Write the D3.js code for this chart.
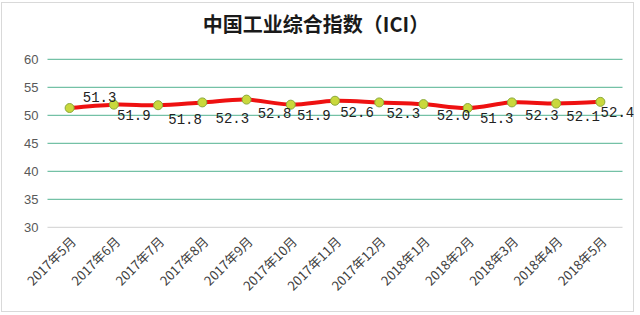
<!DOCTYPE html>
<html>
<head>
<meta charset="utf-8">
<script src="https://cdn.jsdelivr.net/npm/d3@7/dist/d3.min.js"></script>
<style>
  html, body { margin: 0; padding: 0; background: #fff; }
  svg { display: block; }
</style>
</head>
<body>
<svg id="chart" width="640" height="315"></svg>
<script>
// Monthly China Industrial Composite Index
const categories = ["2017年5月", "2017年6月", "2017年7月", "2017年8月", "2017年9月", "2017年10月",
  "2017年11月", "2017年12月", "2018年1月", "2018年2月", "2018年3月", "2018年4月", "2018年5月"];
const iciValues = [51.3, 51.9, 51.8, 52.3, 52.8, 51.9, 52.6, 52.3, 52.0, 51.3, 52.3, 52.1, 52.4];
const yTicks = [30, 35, 40, 45, 50, 55, 60];
const titleText = "中国工业综合指数（ICI）";

// Hand-placed data label offsets (dx, dy) relative to each point
const labelOffsets = [[30, -11], [20, 10], [27, 14], [30, 16], [28, 13], [23, 10], [22, 11],
  [24, 11], [30, 11], [29, 10], [30, 13], [27, 13], [17, 10]];

const svg = d3.select("#chart");
const plot = { left: 47.5, right: 622.5, top: 59.3, bottom: 227.3 };

// Outer frame
svg.append("rect")
  .attr("x", 1.5).attr("y", 2.5).attr("width", 632).attr("height", 309)
  .attr("fill", "#fff").attr("stroke", "#d9d9d9").attr("stroke-width", 1);

// Title
svg.append("text")
  .attr("x", 316).attr("y", 32)
  .attr("text-anchor", "middle")
  .attr("font-family", "'Noto Sans CJK SC', sans-serif")
  .attr("font-weight", 700)
  .attr("font-size", 20)
  .attr("fill", "#1a1a1a")
  .text(titleText);

const x = d3.scaleBand().domain(categories).range([plot.left, plot.right]);
const y = d3.scaleLinear().domain([30, 60]).range([plot.bottom, plot.top]);

// Horizontal gridlines
svg.append("g").selectAll("line")
  .data(yTicks)
  .join("line")
  .attr("x1", plot.left).attr("x2", plot.right)
  .attr("y1", d => y(d)).attr("y2", d => y(d))
  .attr("stroke", d => d === 30 ? "#d9d9d9" : "#74c1a6")
  .attr("stroke-width", 1.3);

// Y axis labels
const yAxis = d3.axisLeft(y).tickValues(yTicks).tickSize(0).tickPadding(9);
const yg = svg.append("g").attr("transform", `translate(${plot.left},0)`).call(yAxis);
yg.select(".domain").remove();
yg.selectAll("text")
  .attr("font-family", "'Liberation Sans', Arial, sans-serif")
  .attr("font-size", 13)
  .attr("fill", "#595959");

// X axis labels, rotated
const xAxis = d3.axisBottom(x).tickSize(0).tickPadding(0);
const xg = svg.append("g").attr("transform", `translate(0,${plot.bottom})`).call(xAxis);
xg.select(".domain").remove();
xg.selectAll("text")
  .attr("font-family", "'Noto Sans CJK SC', sans-serif")
  .attr("font-size", 13)
  .attr("fill", "#404040")
  .attr("text-anchor", "end")
  .attr("dy", "0.35em")
  .attr("transform", "translate(4,12) rotate(-45)");

// Smoothed index line
const cx = d => x(d) + x.bandwidth() / 2;
const pts = categories.map((c, i) => [cx(c), y(iciValues[i])]);
svg.append("path")
  .attr("d", d3.line().curve(d3.curveCatmullRom.alpha(0.5))(pts))
  .attr("fill", "none")
  .attr("stroke", "#ee1111")
  .attr("stroke-width", 4)
  .attr("stroke-linecap", "round");

// Markers
svg.append("g").selectAll("circle")
  .data(pts)
  .join("circle")
  .attr("cx", d => d[0]).attr("cy", d => d[1])
  .attr("r", 4.5)
  .attr("fill", "#c9d83c")
  .attr("stroke", "#8aaa3c")
  .attr("stroke-width", 1);

// Data labels
svg.append("g").selectAll("text")
  .data(iciValues)
  .join("text")
  .attr("x", (d, i) => pts[i][0] + labelOffsets[i][0])
  .attr("y", (d, i) => pts[i][1] + labelOffsets[i][1])
  .attr("dy", "0.35em")
  .attr("text-anchor", "middle")
  .attr("font-family", "'Liberation Mono', monospace")
  .attr("font-size", 14)
  .attr("fill", "#222")
  .text(d => d.toFixed(1));
</script>
</body>
</html>
